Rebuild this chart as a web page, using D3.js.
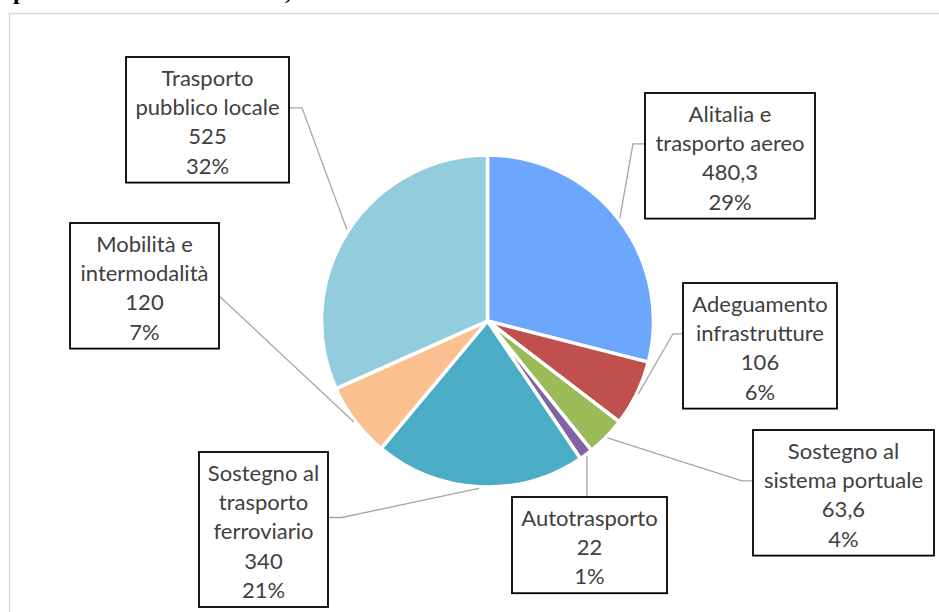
<!DOCTYPE html>
<html lang="it">
<head>
    <meta charset="UTF-8">
    <title>Ripartizione risorse trasporti</title>
    <style>
        body {
            margin: 0;
            padding: 0;
            background: #fff;
            overflow: hidden;
        }
        .slice {
            stroke: #fff;
            stroke-width: 3.5px;
        }
        .leader {
            fill: none;
            stroke: #a6a6a6;
            stroke-width: 1.3px;
        }
        .label-box {
            fill: #fff;
            stroke: #000;
            stroke-width: 1.8px;
        }
        .label-text {
            font-family: Lato, "Open Sans", sans-serif;
            font-size: 22px;
            fill: #404040;
            text-anchor: middle;
        }
        .cut-title {
            font-family: "Liberation Serif", "DejaVu Serif", serif;
            font-weight: bold;
            font-size: 24px;
            fill: #000;
        }
    </style>
</head>
<body>
    <div id="chart"></div>

    <script src="https://cdn.jsdelivr.net/npm/d3@7/dist/d3.min.js"></script>
    <script>
        // data (milioni di euro), clockwise from 12 o'clock
        const categories = [
            "Alitalia e trasporto aereo",
            "Adeguamento infrastrutture",
            "Sostegno al sistema portuale",
            "Autotrasporto",
            "Sostegno al trasporto ferroviario",
            "Mobilità e intermodalità",
            "Trasporto pubblico locale"
        ];
        const values = [480.3, 106, 63.6, 22, 340, 120, 525];
        const labelLines = [
            ["Alitalia e", "trasporto aereo"],
            ["Adeguamento", "infrastrutture"],
            ["Sostegno al", "sistema portuale"],
            ["Autotrasporto"],
            ["Sostegno al", "trasporto", "ferroviario"],
            ["Mobilità e", "intermodalità"],
            ["Trasporto", "pubblico locale"]
        ];
        const colors = ["#6ca6fd", "#c0504d", "#9bbb59", "#8064a2", "#4bacc6", "#fac090", "#93cddd"];

        // where each callout box sits (layout only)
        const boxes = [
            { x: 645, y: 93,  w: 170, side: "left",  dy: -12, stub: 12 },
            { x: 683, y: 283, w: 154, side: "left",  dy: -12, stub: 10 },
            { x: 753, y: 430, w: 181, side: "left",  dy: -12, stub: 11 },
            { x: 512, y: 497, w: 155, side: "top",   dy: 0,   stub: 0 },
            { x: 199, y: 452, w: 129, side: "right", dy: -12, stub: 14 },
            { x: 70,  y: 223, w: 149, side: "right", dy: 10,  stub: 0 },
            { x: 126, y: 57,  w: 163, side: "right", dy: -12, stub: 13 }
        ];

        const width = 939, height = 612;
        const cx = 487.5, cy = 321, radius = 166;
        const lineH = 29.4;

        const itLocale = d3.formatLocale({ decimal: ",", thousands: ".", grouping: [3], currency: ["€", ""] });
        const fmtValue = itLocale.format("~g");
        const fmtPct = d3.format(".0%");
        const total = d3.sum(values);

        const svg = d3.select("#chart")
            .append("svg")
            .attr("width", width)
            .attr("height", height);

        // cut-off heading from the page above the chart
        svg.append("text").attr("class", "cut-title").attr("x", 13).attr("y", -1).text("p");
        svg.append("text").attr("class", "cut-title").attr("x", 285).attr("y", -1).text(",");

        // chart area border
        svg.append("rect")
            .attr("x", 9.5).attr("y", 13.5)
            .attr("width", 960).attr("height", 640)
            .attr("fill", "none")
            .attr("stroke", "#d9d9d9")
            .attr("stroke-width", 1.5);

        const pie = d3.pie().sort(null).value(d => d)(values);
        const arc = d3.arc().innerRadius(0).outerRadius(radius);
        const edge = d3.arc().innerRadius(radius + 1.5).outerRadius(radius + 1.5);

        const g = svg.append("g").attr("transform", `translate(${cx},${cy})`);

        g.selectAll(".slice")
            .data(pie)
            .enter()
            .append("path")
            .attr("class", "slice")
            .attr("fill", (d, i) => colors[i])
            .attr("d", arc);

        // leader lines
        function leaderPoints(d, i) {
            const b = boxes[i];
            const h = labelLines[i].length + 2;
            const boxH = h * lineH + 8;
            const [px, py] = edge.centroid(d);
            const p0 = [cx + px, cy + py];
            if (b.side === "top") {
                return [p0, [p0[0], b.y]];
            }
            const ay = b.y + boxH / 2 + b.dy;
            const ax = b.side === "left" ? b.x : b.x + b.w;
            const ex = b.side === "left" ? ax - b.stub : ax + b.stub;
            return [p0, [ex, ay], [ax, ay]];
        }

        svg.selectAll(".leader")
            .data(pie)
            .enter()
            .append("polyline")
            .attr("class", "leader")
            .attr("points", (d, i) => leaderPoints(d, i).map(p => p.join(",")).join(" "));

        // callout boxes
        const label = svg.selectAll(".label")
            .data(pie)
            .enter()
            .append("g")
            .attr("class", "label");

        label.append("rect")
            .attr("class", "label-box")
            .attr("x", (d, i) => boxes[i].x)
            .attr("y", (d, i) => boxes[i].y)
            .attr("width", (d, i) => boxes[i].w)
            .attr("height", (d, i) => (labelLines[i].length + 2) * lineH + 8);

        label.each(function (d, i) {
            const b = boxes[i];
            const lines = labelLines[i].concat([fmtValue(values[i]), fmtPct(values[i] / total)]);
            d3.select(this).selectAll("text")
                .data(lines)
                .enter()
                .append("text")
                .attr("class", "label-text")
                .attr("x", b.x + b.w / 2)
                .attr("y", (t, k) => b.y + 28.5 + k * lineH)
                .text(t => t);
        });
    </script>
</body>
</html>
